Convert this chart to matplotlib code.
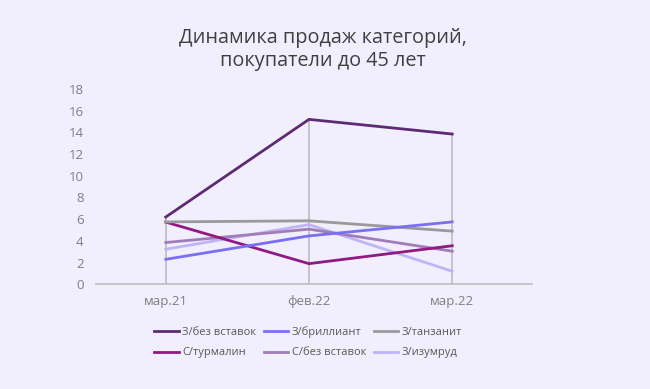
import matplotlib.pyplot as plt

# data
months = ["мар.21", "фев.22", "мар.22"]
series_names = ["З/без вставок", "З/бриллиант", "З/танзанит",
                "С/турмалин", "С/без вставок", "З/изумруд"]
bez_vstavok_z = [6.2, 15.2, 13.85]
brilliant = [2.3, 4.46, 5.75]
tanzanit = [5.75, 5.85, 4.9]
turmalin = [5.73, 1.9, 3.55]
bez_vstavok_s = [3.85, 5.08, 3.05]
izumrud = [3.23, 5.5, 1.2]
colors = ["#5E2A73", "#7B6EF5", "#9A9A9A", "#8E1A82", "#A07DB8", "#BFB5F5"]

all_series = [bez_vstavok_z, brilliant, tanzanit, turmalin, bez_vstavok_s, izumrud]

plt.rcParams['font.family'] = ['Open Sans', 'DejaVu Sans']
bg = "#F1EFFD"

fig = plt.figure(figsize=(6.5, 3.89), dpi=100, facecolor=bg)
ax = fig.add_axes([0.1477, 0.2692, 0.6708, 0.502])
ax.set_facecolor(bg)

x = list(range(len(months)))

# drop lines from the highest value down to the axis
tops = [max(s[i] for s in all_series) for i in x]
ax.vlines(x, 0, tops, color="#BDBDBD", lw=1.2, zorder=1)

# draw the lines in reverse so the first series is on top
for name, vals, c in reversed(list(zip(series_names, all_series, colors))):
    ax.plot(x, vals, color=c, lw=2, label=name, zorder=2)

ax.set_xlim(-0.487, 2.557)
ax.set_ylim(0, 18)
ax.set_yticks(range(0, 19, 2))
ax.set_xticks(x)
ax.set_xticklabels(months)
ax.tick_params(axis='both', length=0, colors="#7F7F7F", labelsize=9.5)
ax.tick_params(axis='x', pad=8)
ax.tick_params(axis='y', pad=9)
for side in ["top", "right", "left"]:
    ax.spines[side].set_visible(False)
ax.spines["bottom"].set_color("#BDBDBD")
ax.spines["bottom"].set_linewidth(1.2)

fig.text(0.497, 0.873, "Динамика продаж категорий,\nпокупатели до 45 лет",
         ha="center", va="center", fontsize=14.3, color="#404040", linespacing=1.2)

handles, labels = ax.get_legend_handles_labels()
handles, labels = handles[::-1], labels[::-1]
# reorder so legend fills row by row
order = [0, 3, 1, 4, 2, 5]
leg = fig.legend([handles[i] for i in order], [labels[i] for i in order],
                 ncol=3, loc="center", bbox_to_anchor=(0.474, 0.12),
                 frameon=False, fontsize=8, handlelength=2.2,
                 handletextpad=0.3, columnspacing=0.7, labelspacing=0.85)
for t in leg.get_texts():
    t.set_color("#595959")

fig.savefig("out.png", dpi=100, facecolor=bg)
